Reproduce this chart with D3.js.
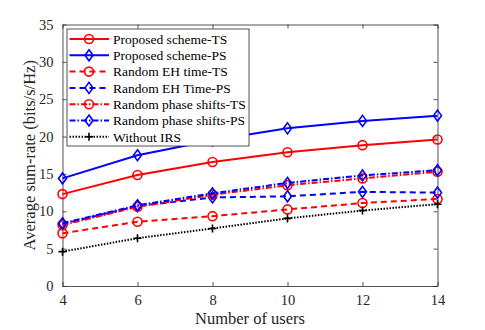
<!DOCTYPE html>
<html lang="en">
<head>
<meta charset="UTF-8">
<title>Sum-rate vs users</title>
<script src="https://cdn.jsdelivr.net/npm/d3@7"></script>
<style>
  body { margin: 0; background: #fff; }
  svg { font-family: "Liberation Serif", "Times New Roman", serif; }
</style>
</head>
<body>
<script>

    const width = 485;
    const height = 330;
    const margin = {top: 24.5, right: 47.5, bottom: 44, left: 62.5};

    // data
    const users = [4, 6, 8, 10, 12, 14];
    const proposedTS = [12.3, 14.85, 16.6, 17.9, 18.85, 19.6];
    const proposedPS = [14.4, 17.5, 19.5, 21.1, 22.1, 22.8];
    const randomEhTS = [7.05, 8.6, 9.35, 10.25, 11.1, 11.65];
    const randomEhPS = [8.3, 10.7, 11.85, 12.0, 12.6, 12.5];
    const randomPhaseTS = [8.15, 10.6, 12.2, 13.5, 14.4, 15.3];
    const randomPhasePS = [8.4, 10.8, 12.4, 13.8, 14.8, 15.5];
    const withoutIRS = [4.6, 6.4, 7.7, 9.05, 10.1, 10.95];

    const xTicks = [4, 6, 8, 10, 12, 14];
    const yTicks = [0, 5, 10, 15, 20, 25, 30, 35];

    const series = [
        {name: "Proposed scheme-TS", values: proposedTS, color: "#ff0000", dash: null, marker: "circle"},
        {name: "Proposed scheme-PS", values: proposedPS, color: "#0000ff", dash: null, marker: "diamond"},
        {name: "Random EH time-TS", values: randomEhTS, color: "#ff0000", dash: "6,4", marker: "circle"},
        {name: "Random EH Time-PS", values: randomEhPS, color: "#0000ff", dash: "6,4", marker: "diamond"},
        {name: "Random phase shifts-TS", values: randomPhaseTS, color: "#ff0000", dash: "6,2,1.5,2", marker: "circle"},
        {name: "Random phase shifts-PS", values: randomPhasePS, color: "#0000ff", dash: "6,2,1.5,2", marker: "diamond"},
        {name: "Without IRS", values: withoutIRS, color: "#000000", dash: "1.5,1.5", marker: "plus"}
    ];

    const svg = d3.select("body").append("svg").attr("width", width).attr("height", height);

    const x = d3.scaleLinear().domain([4, 14]).range([margin.left, width - margin.right]);
    const y = d3.scaleLinear().domain([0, 35]).range([height - margin.bottom, margin.top]);

    const axisColor = "#262626";

    // box with inward ticks
    svg.append("g")
        .attr("transform", `translate(0,${y(0)})`)
        .call(d3.axisBottom(x).tickValues(xTicks).tickSizeInner(-4).tickSizeOuter(0).tickPadding(9))
        .call(g => g.selectAll("text").attr("font-size", 14.5).attr("fill", axisColor));
    svg.append("g")
        .attr("transform", `translate(0,${y(35)})`)
        .call(d3.axisTop(x).tickValues(xTicks).tickSizeInner(-4).tickSizeOuter(0).tickFormat(""));
    svg.append("g")
        .attr("transform", `translate(${x(4)},0)`)
        .call(d3.axisLeft(y).tickValues(yTicks).tickSizeInner(-4).tickSizeOuter(0).tickPadding(9))
        .call(g => g.selectAll("text").attr("font-size", 14.5).attr("fill", axisColor));
    svg.append("g")
        .attr("transform", `translate(${x(14)},0)`)
        .call(d3.axisRight(y).tickValues(yTicks).tickSizeInner(-4).tickSizeOuter(0).tickFormat(""));
    svg.selectAll(".domain, .tick line").attr("stroke", axisColor).attr("stroke-width", 0.8);
    svg.selectAll(".tick text").attr("font-family", "Liberation Serif");

    // axis titles
    svg.append("text")
        .attr("x", (x(4) + x(14)) / 2)
        .attr("y", 324)
        .attr("text-anchor", "middle")
        .attr("font-size", 16.5)
        .attr("fill", axisColor)
        .text("Number of users");
    svg.append("text")
        .attr("transform", `translate(35,${(y(0) + y(35)) / 2}) rotate(-90)`)
        .attr("text-anchor", "middle")
        .attr("font-size", 16.5)
        .attr("fill", axisColor)
        .text("Average sum-rate (bits/s/Hz)");

    const line = d3.line().x((d, i) => x(users[i])).y(d => y(d));

    function drawMarker(sel, type, color) {
        if (type === "circle") {
            sel.append("circle").attr("r", 4.5).attr("fill", "none")
                .attr("stroke", color).attr("stroke-width", 1.6);
        } else if (type === "diamond") {
            sel.append("path").attr("d", "M0,-5.5L4,0L0,5.5L-4,0Z").attr("fill", "none")
                .attr("stroke", color).attr("stroke-width", 1.6);
        } else {
            sel.append("path").attr("d", "M-4,0H4M0,-4V4").attr("fill", "none")
                .attr("stroke", color).attr("stroke-width", 1.6);
        }
    }

    const plot = svg.append("g");

    series.forEach(s => {
        plot.append("path")
            .datum(s.values)
            .attr("fill", "none")
            .attr("stroke", s.color)
            .attr("stroke-width", 2)
            .attr("stroke-dasharray", s.dash)
            .attr("d", line);
        plot.selectAll(null)
            .data(s.values)
            .join("g")
            .attr("transform", (d, i) => `translate(${x(users[i])},${y(d)})`)
            .each(function () { drawMarker(d3.select(this), s.marker, s.color); });
    });

    // legend
    const legend = svg.append("g").attr("transform", "translate(67,29)");
    legend.append("rect")
        .attr("width", 182).attr("height", 117)
        .attr("fill", "#fff").attr("stroke", axisColor).attr("stroke-width", 0.8);

    const row = legend.selectAll("g.item")
        .data(series)
        .join("g")
        .attr("class", "item")
        .attr("transform", (d, i) => `translate(0,${10 + i * 16.3})`);

    row.append("line")
        .attr("x1", 2.5).attr("x2", 42)
        .attr("stroke", d => d.color)
        .attr("stroke-width", 2)
        .attr("stroke-dasharray", d => d.dash);
    row.append("g")
        .attr("transform", "translate(22,0)")
        .each(function (d) { drawMarker(d3.select(this), d.marker, d.color); });
    row.append("text")
        .attr("x", 46)
        .attr("dy", "0.35em")
        .attr("font-size", 13.5)
        .attr("fill", "#000")
        .text(d => d.name);

</script>
</body>
</html>
